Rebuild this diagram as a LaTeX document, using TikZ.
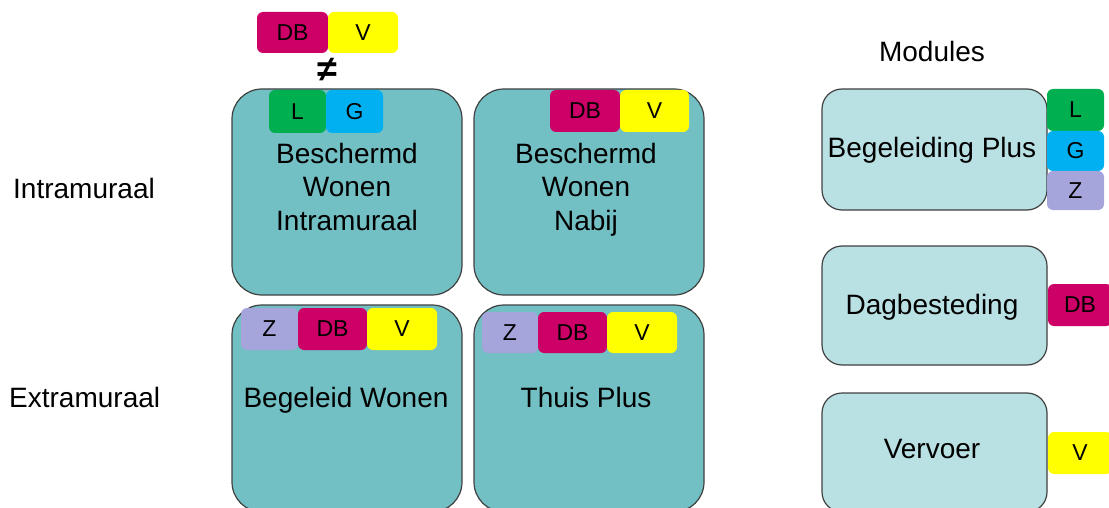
\documentclass[tikz,border=0pt]{standalone}
\usepackage{fontspec}
\setmainfont{Liberation Sans}
\definecolor{teal1}{HTML}{72BFC4}
\definecolor{light1}{HTML}{B9E0E3}
\definecolor{cDB}{HTML}{CC0066}
\definecolor{cV}{HTML}{FFFF00}
\definecolor{cL}{HTML}{00B050}
\definecolor{cG}{HTML}{00B0F0}
\definecolor{cZ}{HTML}{A5A5DC}
\definecolor{edge}{HTML}{404040}
\tikzset{
  bigbox/.style={draw=edge, line width=1.2pt, fill=teal1, rounded corners=30pt,
    minimum width=230pt, inner sep=0pt},
  modbox/.style={draw=edge, line width=1.2pt, fill=light1, rounded corners=20pt,
    minimum width=225pt, inner sep=0pt},
  chip/.style={rounded corners=6pt, inner sep=0pt, minimum height=42pt,
    font=\fontsize{23}{26}\selectfont},
  lbl/.style={anchor=base, align=center, inner sep=0pt,
    font=\fontsize{28}{33.5}\selectfont},
}
\begin{document}
\begin{tikzpicture}[x=1pt,y=-1pt]
\useasboundingbox (0,0) rectangle (1109,508);
\clip (0,0) rectangle (1109,508);
% big boxes
\node[bigbox, minimum height=206pt] (b1) at (347,192) {};
\node[bigbox, minimum height=206pt] (b2) at (589,192) {};
\node[bigbox, minimum height=207pt] (b3) at (347,408.5) {};
\node[bigbox, minimum height=207pt] (b4) at (589,408.5) {};
% module boxes
\node[modbox, minimum height=121pt] (m1) at (934.5,149.5) {};
\node[modbox, minimum height=119pt] (m2) at (934.5,305.5) {};
\node[modbox, minimum height=119pt] (m3) at (934.5,452.5) {};
% labels
\node[lbl] (t1) at (347,230) {Beschermd\\Wonen\\Intramuraal};
\node[lbl] (t2) at (586,230) {Beschermd\\Wonen\\Nabij};
\node[lbl] (t3) at (346,407) {Begeleid Wonen};
\node[lbl] (t4) at (586,407) {Thuis Plus};
\node[lbl] (t5) at (932,158) {Begeleiding Plus};
\node[lbl] (t6) at (932,314) {Dagbesteding};
\node[lbl] (t7) at (932,458) {Vervoer};
\node[lbl, anchor=base west] (intra) at (13,199) {Intramuraal};
\node[lbl, anchor=base west] (extra) at (9,407) {Extramuraal};
\node[lbl] (mod) at (932,62) {Modules};
% top chips
\node[chip, fill=cDB, minimum width=71pt, minimum height=41pt] (c1) at (292.5,32.5) {DB};
\node[chip, fill=cV, minimum width=70pt, minimum height=41pt] (c2) at (363,32.5) {V};
\node[inner sep=0pt, font=\fontsize{36}{38}\selectfont\bfseries] (neq) at (327,70) {≠};
% box 1 chips
\node[chip, fill=cL, minimum width=57pt, minimum height=43pt] (c3) at (297.5,111.5) {L};
\node[chip, fill=cG, minimum width=57pt, minimum height=43pt] (c4) at (354.5,111.5) {G};
% box 2 chips
\node[chip, fill=cDB, minimum width=70pt] (c5) at (585,111) {DB};
\node[chip, fill=cV, minimum width=69pt] (c6) at (654.5,111) {V};
% box 3 chips
\node[chip, fill=cZ, minimum width=57pt] (c7) at (269.5,329) {Z};
\node[chip, fill=cDB, minimum width=69pt] (c8) at (332.5,329) {DB};
\node[chip, fill=cV, minimum width=70pt] (c9) at (402,329) {V};
% box 4 chips
\node[chip, fill=cZ, minimum width=56pt, minimum height=41pt] (c10) at (510,332.5) {Z};
\node[chip, fill=cDB, minimum width=69pt, minimum height=41pt] (c11) at (572.5,332.5) {DB};
\node[chip, fill=cV, minimum width=70pt, minimum height=41pt] (c12) at (642,332.5) {V};
% module chips
\node[chip, fill=cL, minimum width=57pt, minimum height=42pt] (c13) at (1075.5,110) {L};
\node[chip, fill=cG, minimum width=57pt, minimum height=40pt] (c14) at (1075.5,151) {G};
\node[chip, fill=cZ, minimum width=57pt, minimum height=39pt] (c15) at (1075.5,190.5) {Z};
\node[chip, fill=cDB, minimum width=64pt] (c16) at (1080,305) {DB};
\node[chip, fill=cV, minimum width=64pt] (c17) at (1080,453) {V};
\end{tikzpicture}
\end{document}
